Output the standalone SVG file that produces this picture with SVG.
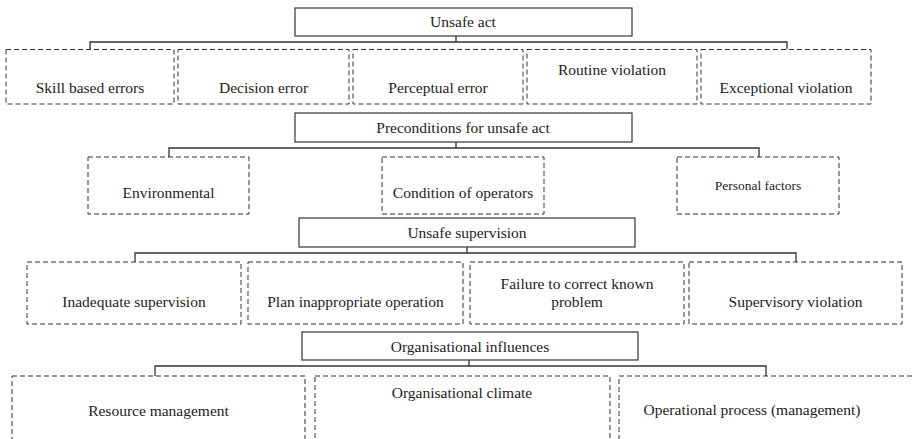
<svg xmlns="http://www.w3.org/2000/svg" width="912" height="439" viewBox="0 0 912 439">
<style>
.hdr{fill:#fff;stroke:#333;stroke-width:1.2}
.dsh{fill:#fff;stroke:#333;stroke-width:1;stroke-dasharray:5,3}
.con{fill:none;stroke:#333;stroke-width:1.3}
text{font-family:"Liberation Serif","Times New Roman",serif;font-size:15.5px;fill:#222;text-anchor:middle}
.sm{font-size:13.5px}
</style>
<rect width="912" height="439" fill="#fff"/>
<g id="connectors">
<path class="con" d="M456,36V42M90,49.5V42H787V49.5"/>
<path class="con" d="M456,142V148M169,157V148H759V157"/>
<path class="con" d="M467,247V253M135,262V253H796V262"/>
<path class="con" d="M469,360V366M155,376V366H766V376"/>
</g>
<g id="unsafe-act"><rect class="hdr" x="295" y="8" width="337" height="28"/><text x="463" y="27">Unsafe act</text></g>
<g id="skill-based-errors"><rect class="dsh" x="6" y="49.5" width="168" height="54.5"/><text x="90" y="92.5">Skill based errors</text></g>
<g id="decision-error"><rect class="dsh" x="178" y="49.5" width="171" height="54.5"/><text x="263.5" y="92.5">Decision error</text></g>
<g id="perceptual-error"><rect class="dsh" x="353" y="49.5" width="170" height="54.5"/><text x="438" y="92.5">Perceptual error</text></g>
<g id="routine-violation"><rect class="dsh" x="527" y="49.5" width="170" height="54.5"/><text x="612" y="75">Routine violation</text></g>
<g id="exceptional-violation"><rect class="dsh" x="701" y="49.5" width="170" height="54.5"/><text x="786" y="92.5">Exceptional violation</text></g>
<g id="preconditions"><rect class="hdr" x="295" y="113" width="337" height="29"/><text x="463" y="133">Preconditions for unsafe act</text></g>
<g id="environmental"><rect class="dsh" x="88" y="157" width="161" height="57"/><text x="168.5" y="198">Environmental</text></g>
<g id="condition-of-operators"><rect class="dsh" x="382" y="157" width="162" height="57"/><text x="463" y="198">Condition of operators</text></g>
<g id="personal-factors"><rect class="dsh" x="677" y="157" width="162" height="57"/><text class="sm" x="758" y="190">Personal factors</text></g>
<g id="unsafe-supervision"><rect class="hdr" x="299" y="218" width="336" height="29"/><text x="467" y="238">Unsafe supervision</text></g>
<g id="inadequate-supervision"><rect class="dsh" x="27" y="262" width="214" height="62"/><text x="134" y="307">Inadequate supervision</text></g>
<g id="plan-inappropriate-operation"><rect class="dsh" x="248" y="262" width="215" height="62"/><text x="355.5" y="307">Plan inappropriate operation</text></g>
<g id="failure-to-correct"><rect class="dsh" x="470" y="262" width="214" height="62"/><text x="577" y="289">Failure to correct known</text><text x="577" y="307">problem</text></g>
<g id="supervisory-violation"><rect class="dsh" x="689" y="262" width="213" height="62"/><text x="795.5" y="307">Supervisory violation</text></g>
<g id="organisational-influences"><rect class="hdr" x="302" y="332" width="336" height="28"/><text x="470" y="352">Organisational influences</text></g>
<g id="resource-management"><rect class="dsh" x="12" y="376" width="293" height="80"/><text x="158.5" y="416">Resource management</text></g>
<g id="organisational-climate"><rect class="dsh" x="315" y="376" width="295" height="80"/><text x="462" y="398">Organisational climate</text></g>
<g id="operational-process"><rect class="dsh" x="619" y="376" width="300" height="80"/><text x="752" y="415">Operational process (management)</text></g>
</svg>
